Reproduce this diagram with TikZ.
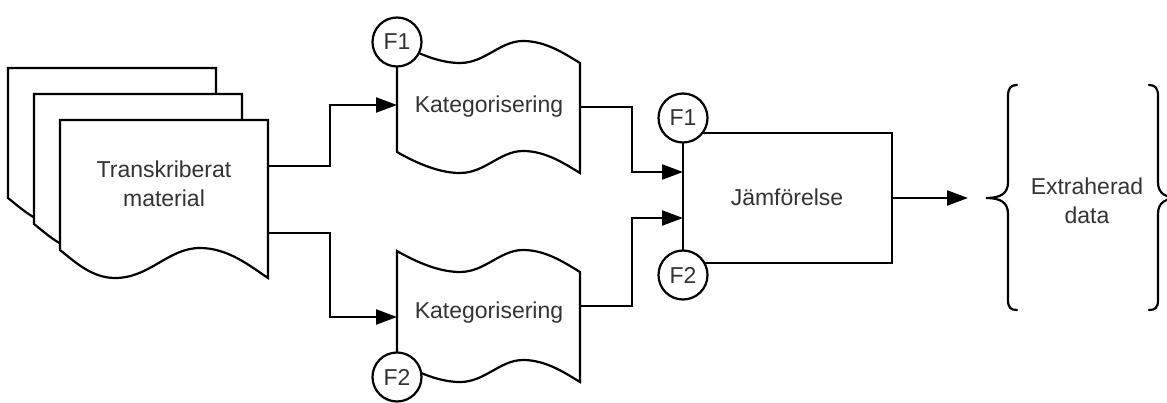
\documentclass[tikz,border=0pt]{standalone}
\usepackage{fontspec}
\setmainfont{Liberation Sans}
\usetikzlibrary{arrows.meta}
\definecolor{txt}{HTML}{333333}
\newcommand{\docpagepath}{(60,120) -- (268,120) -- (268,278) .. controls (250,266) and (228,248) .. (200,248) .. controls (168,248) and (150,278) .. (115,278) .. controls (92,278) and (75,262) .. (60,250) -- cycle}
\newcommand{\tapepath}{(397,0) .. controls (418,12) and (440,21) .. (460,21) .. controls (485,21) and (500,-1) .. (523,-1) .. controls (546,-1) and (565,12) .. (580,21) -- (580,131) .. controls (565,122) and (546,109) .. (523,109) .. controls (500,109) and (485,131) .. (460,131) .. controls (440,131) and (418,122) .. (397,110) -- cycle}
\begin{document}
\begin{tikzpicture}[x=1pt,y=-1pt,line width=2.2pt,
  lbl/.style={font=\fontsize{23}{28.5}\selectfont,text=txt,align=center,inner sep=0pt},
  shapebox/.style={draw=black,fill=white,line join=miter},
  fcirc/.style={circle,draw=black,fill=white,minimum size=49pt,inner sep=0pt,font=\fontsize{23}{28}\selectfont,text=txt},
  arr/.style={-{Triangle[length=21pt,width=15pt]},line width=2.2pt},
  brace/.style={draw=black,line width=2.2pt,line cap=round}]
\clip (0,0) rectangle (1167,403);
% document stack
\draw[shapebox,shift={(-52,-52)}] \docpagepath;
\draw[shapebox,shift={(-26,-26)}] \docpagepath;
\draw[shapebox] \docpagepath;
\node[lbl] (doc) at (164,184) {Transkriberat\\material};
% tapes
\draw[shapebox,shift={(0,42)}] \tapepath;
\draw[shapebox,shift={(0,251)}] \tapepath;
\node[lbl] (kat1) at (489,107) {Kategorisering};
\node[lbl] (kat2) at (489,313) {Kategorisering};
\node[fcirc] (f1a) at (397,42) {F1};
\node[fcirc] (f2a) at (397,377) {F2};
% comparison
\draw[shapebox] (683,133) rectangle (892,263);
\node[lbl] (jam) at (787,197) {Jämförelse};
\node[fcirc] (f1b) at (683,118) {F1};
\node[fcirc] (f2b) at (683,275) {F2};
% coordinates on edges
\coordinate (d1) at (268,166);
\coordinate (d2) at (268,233);
\coordinate (k1in) at (397,105);
\coordinate (k2in) at (397,317);
\coordinate (k1out) at (580,107);
\coordinate (k2out) at (580,306);
\coordinate (j1in) at (683,172);
\coordinate (j2in) at (683,218);
\coordinate (jout) at (892,198);
\coordinate (din) at (968,198);
% connectors
\draw[arr] (d1) -- ++(62,0) |- (k1in);
\draw[arr] (d2) -- ++(62,0) |- (k2in);
\draw[arr] (k1out) -- ++(52,0) |- (j1in);
\draw[arr] (k2out) -- ++(52,0) |- (j2in);
\draw[arr] (jout) -- (din);
% braces
\draw[brace] (1017,85) .. controls (1011,85) and (1008,88) .. (1008,96) -- (1008,182) .. controls (1008,194) and (1000,198) .. (986,198) .. controls (1000,198) and (1008,202) .. (1008,214) -- (1008,300) .. controls (1008,308) and (1011,310) .. (1017,310);
\draw[brace] (1149,85) .. controls (1155,85) and (1158,88) .. (1158,96) -- (1158,182) .. controls (1158,194) and (1166,198) .. (1180,198) .. controls (1166,198) and (1158,202) .. (1158,214) -- (1158,300) .. controls (1158,308) and (1155,310) .. (1149,310);
\node[lbl] (data) at (1087,201) {Extraherad\\data};
\end{tikzpicture}
\end{document}
